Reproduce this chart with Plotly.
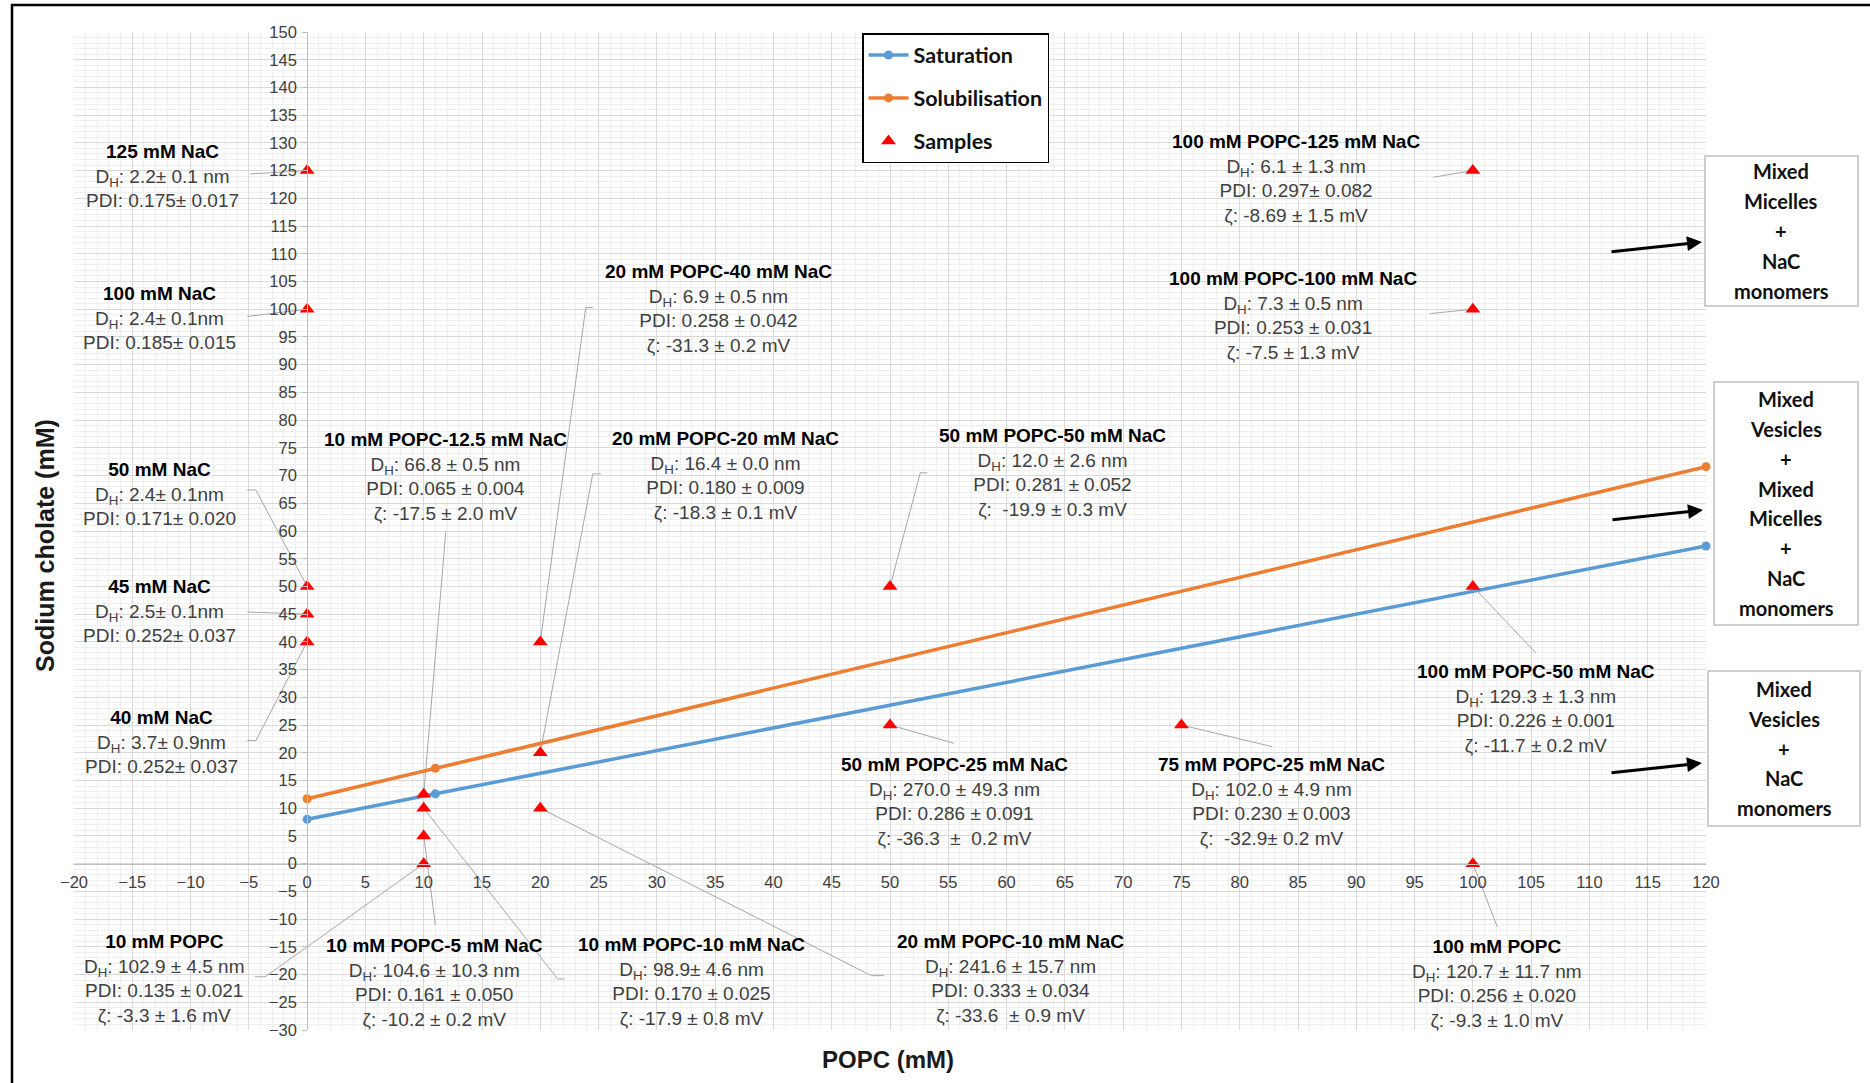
import plotly.graph_objects as go

# ---------------- data ----------------
# Phase boundaries (POPC vs sodium cholate, mM)
boundary_popc = [0, 11, 120]
saturation_nac = [8.0, 12.6, 57.3]
solubilisation_nac = [11.7, 17.2, 71.6]

# Samples
sample_popc = [0, 0, 0, 0, 0, 10, 10, 10, 10, 20, 20, 20, 50, 50, 75, 100, 100, 100, 100]
sample_nac = [125, 100, 50, 45, 40, 12.5, 10, 5, 0, 40, 20, 10, 50, 25, 25, 125, 100, 50, 0]
dh_text = ["2.2± 0.1 nm", "2.4± 0.1nm", "2.4± 0.1nm", "2.5± 0.1nm", "3.7± 0.9nm",
           "66.8 ± 0.5 nm", "98.9± 4.6 nm", "104.6 ± 10.3 nm", "102.9 ± 4.5 nm",
           "6.9 ± 0.5 nm", "16.4 ± 0.0 nm", "241.6 ± 15.7 nm",
           "12.0 ± 2.6 nm", "270.0 ± 49.3 nm", "102.0 ± 4.9 nm",
           "6.1 ± 1.3 nm", "7.3 ± 0.5 nm", "129.3 ± 1.3 nm", "120.7 ± 11.7 nm"]
pdi_text = ["0.175± 0.017", "0.185± 0.015", "0.171± 0.020", "0.252± 0.037", "0.252± 0.037",
            "0.065 ± 0.004", "0.170 ± 0.025", "0.161 ± 0.050", "0.135 ± 0.021",
            "0.258 ± 0.042", "0.180 ± 0.009", "0.333 ± 0.034",
            "0.281 ± 0.052", "0.286 ± 0.091", "0.230 ± 0.003",
            "0.297± 0.082", "0.253 ± 0.031", "0.226 ± 0.001", "0.256 ± 0.020"]
zeta_text = [None, None, None, None, None,
             "-17.5 ± 2.0 mV", "-17.9 ± 0.8 mV", "-10.2 ± 0.2 mV", "-3.3 ± 1.6 mV",
             "-31.3 ± 0.2 mV", "-18.3 ± 0.1 mV", "-33.6  ± 0.9 mV",
             " -19.9 ± 0.3 mV", "-36.3  ±  0.2 mV", " -32.9± 0.2 mV",
             "-8.69 ± 1.5 mV", "-7.5 ± 1.3 mV", "-11.7 ± 0.2 mV", "-9.3 ± 1.0 mV"]

x_ticks = list(range(-20, 121, 5))
y_ticks = list(range(-30, 151, 5))

region_labels = [
    ["Mixed", "Micelles", "+", "NaC", "monomers"],
    ["Mixed", "Vesicles", "+", "Mixed", "Micelles", "+", "NaC", "monomers"],
    ["Mixed", "Vesicles", "+", "NaC", "monomers"],
]

# ---------------- layout helpers ----------------
W_PX, H_PX = 1870, 1083
L, R, T, B = 74, 1706, 32, 1030


def paper_x(px):
    return (px - L) / (R - L)


def paper_y(py):
    return (B - py) / (B - T)


# label block centre (data units) and leader waypoints, per sample
label_pos = [(-12.4, 124.1), (-12.7, 98.4), (-12.7, 66.7), (-12.7, 45.5), (-12.5, 22.0),
             (11.9, 69.9), (33.0, -21.2), (10.9, -21.4), (-12.2, -20.7),
             (35.3, 100.1), (35.9, 70.1), (60.3, -20.8),
             (63.9, 70.6), (55.5, 11.2), (82.7, 11.2),
             (84.8, 123.5), (84.6, 98.8), (105.4, 28.0), (102.1, -21.6)]
leader_pts = [[(-4.9, 124.4)], [(-5.15, 98.7)], [(-5.15, 67.4), (-4.4, 67.4)],
              [(-5.15, 45.4)], [(-5.15, 22.2), (-4.4, 22.2)],
              [(11.9, 60.0)], [(22.1, -20.8), (21.5, -20.8)], [(11.0, -11.0)],
              [(-4.5, -20.4), (-3.6, -20.4)],
              [(24.5, 100.3), (23.9, 100.3)], [(25.2, 70.3), (24.5, 70.3)],
              [(49.5, -20.2), (48.4, -20.2)],
              [(53.2, 70.5), (52.6, 70.5)], [(55.5, 21.7)], [(82.8, 21.1)],
              [(96.6, 123.8)], [(96.3, 99.2)], [(105.4, 38.0)], [(102.1, -11.4)]]

ARIAL = "Liberation Sans, Arial, sans-serif"
CAL = "Lato, Open Sans, sans-serif"

fig = go.Figure()

# leader lines (under the markers)
lx, ly = [], []
for i, pts in enumerate(leader_pts):
    for (a, b) in pts:
        lx.append(a)
        ly.append(b)
    lx += [sample_popc[i], None]
    ly += [sample_nac[i], None]
fig.add_trace(go.Scatter(x=lx, y=ly, mode="lines", line=dict(color="#a6a6a6", width=1),
                         hoverinfo="skip", showlegend=False))

fig.add_trace(go.Scatter(x=boundary_popc, y=saturation_nac, mode="lines+markers",
                         name="Saturation", legendgroup="a",
                         line=dict(color="#5b9bd5", width=3.5),
                         marker=dict(symbol="circle", size=9, color="#5b9bd5"),
                         cliponaxis=False))
fig.add_trace(go.Scatter(x=boundary_popc, y=solubilisation_nac, mode="lines+markers",
                         name="Solubilisation", legendgroup="b",
                         line=dict(color="#ed7d31", width=3.5),
                         marker=dict(symbol="circle", size=9, color="#ed7d31"),
                         cliponaxis=False))
fig.add_trace(go.Scatter(x=sample_popc, y=sample_nac, mode="markers", name="Samples",
                         legendgroup="c",
                         marker=dict(symbol="triangle-up", size=13, color="#ff0000"),
                         cliponaxis=False))

annotations = []

# sample descriptions
for i in range(len(sample_popc)):
    p, n = sample_popc[i], sample_nac[i]
    if p == 0:
        title = f"{n:g} mM NaC"
    elif n == 0:
        title = f"{p:g} mM POPC"
    else:
        title = f"{p:g} mM POPC-{n:g} mM NaC"
    lines = [f"<b><span style='color:#000000'>{title}</span></b>",
             f"D<sub>H</sub>: {dh_text[i]}",
             f"PDI: {pdi_text[i]}"]
    if zeta_text[i]:
        lines.append(f"ζ: {zeta_text[i]}")
    annotations.append(dict(x=label_pos[i][0], y=label_pos[i][1], xref="x", yref="y",
                            text="<br>".join(lines), showarrow=False, align="center",
                            xanchor="center", yanchor="middle",
                            font=dict(family=ARIAL, size=19, color="#404040")))

# region boxes on the right
boxes = [(1705, 156, 1858, 306), (1714, 382, 1858, 625), (1708, 671, 1860, 826)]
shapes = []
for (x0, y0, x1, y1), lines in zip(boxes, region_labels):
    shapes.append(dict(type="rect", xref="paper", yref="paper",
                       x0=paper_x(x0), x1=paper_x(x1), y0=paper_y(y0), y1=paper_y(y1),
                       line=dict(color="#bfbfbf", width=1.5), fillcolor="white", layer="above"))
    cx = (x0 + x1) / 2
    cy = (y0 + y1) / 2
    for k, t in enumerate(lines):
        py = cy + (k - (len(lines) - 1) / 2) * 29.8
        annotations.append(dict(x=paper_x(cx), y=paper_y(py), xref="paper", yref="paper",
                                text=f"<b>{t}</b>", showarrow=False, xanchor="center",
                                yanchor="middle",
                                font=dict(family=CAL, size=20, color="#111111")))

# arrows pointing at the boxes
for hx, hy in [(1702, 242), (1703, 510), (1702, 763)]:
    annotations.append(dict(x=paper_x(hx), y=paper_y(hy), xref="paper", yref="paper",
                            ax=-92, ay=10, axref="pixel", ayref="pixel", text="",
                            showarrow=True, arrowhead=2, arrowsize=1, arrowwidth=3,
                            arrowcolor="#000000"))

# axis titles
annotations.append(dict(x=paper_x(888), y=paper_y(1059), xref="paper", yref="paper",
                        text="<b>POPC (mM)</b>", showarrow=False,
                        xanchor="center", yanchor="middle",
                        font=dict(family=ARIAL, size=24, color="#1a1a1a")))
annotations.append(dict(x=paper_x(45), y=paper_y(546), xref="paper", yref="paper",
                        text="<b>Sodium cholate (mM)</b>", showarrow=False, textangle=-90,
                        xanchor="center", yanchor="middle",
                        font=dict(family=ARIAL, size=25, color="#1a1a1a")))

# outer frame
shapes.append(dict(type="rect", xref="paper", yref="paper",
                   x0=paper_x(12), x1=paper_x(1920), y0=paper_y(5), y1=paper_y(1120),
                   line=dict(color="#000000", width=2.5), layer="above"))

axis_common = dict(showgrid=True, gridcolor="#d9d9d9", gridwidth=1,
                   minor=dict(dtick=1, showgrid=True, gridcolor="#efefef", gridwidth=1),
                   zeroline=False, showline=True, linecolor="#bfbfbf", linewidth=1,
                   anchor="free",
                   tickfont=dict(family=ARIAL, size=16.5, color="#404040"))

fig.update_layout(
    width=W_PX, height=H_PX, autosize=False,
    margin=dict(l=L, r=W_PX - R, t=T, b=H_PX - B),
    paper_bgcolor="white", plot_bgcolor="white",
    xaxis=dict(range=[-20, 120], tickmode="array", tickvals=x_ticks,
               position=30 / 180, ticks="", ticklabelstandoff=4, **axis_common),
    yaxis=dict(range=[-30, 150], tickmode="array", tickvals=y_ticks,
               position=20 / 140, ticks="outside", ticklen=5, tickcolor="#bfbfbf",
               ticklabelstandoff=2, **axis_common),
    legend=dict(x=paper_x(862), y=paper_y(33), xanchor="left", yanchor="top",
                bgcolor="white", bordercolor="#000000", borderwidth=1.5,
                tracegroupgap=12, traceorder="grouped", itemwidth=40,
                font=dict(family=CAL, size=21.5, color="#111111", weight="bold")),
    annotations=annotations,
    shapes=shapes,
)

fig.write_html("out.html")
